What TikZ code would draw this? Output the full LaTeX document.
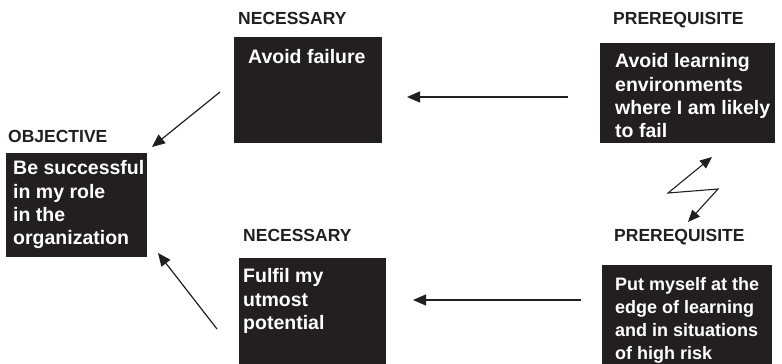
\documentclass[tikz,border=0pt]{standalone}
\usepackage{fontspec}
\setmainfont{Liberation Sans}
\usetikzlibrary{arrows.meta}
\definecolor{boxfill}{HTML}{231F20}
\begin{document}
\begin{tikzpicture}[x=1pt,y=-1pt,
  boxrect/.style={fill=boxfill,draw=none,anchor=north west,inner sep=0pt},
  boxtext/.style={text=white,anchor=north west,inner sep=0pt,align=left,
    font=\fontsize{19.5}{23.3}\selectfont\bfseries},
  lbl/.style={anchor=base west,inner sep=0pt,text=boxfill,
    font=\fontsize{17.5}{20}\selectfont\bfseries},
  conn/.style={draw=boxfill,line width=1.2pt,-{Triangle[length=13pt,width=11pt]}},
  zz/.style={draw=boxfill,line width=1.1pt,{Triangle[length=12pt,width=10pt]}-{Triangle[length=12pt,width=10pt]}}]
\useasboundingbox (0,0) rectangle (782,364);
\fill[white] (0,0) rectangle (782,364);

% boxes
\node[boxrect,minimum width=141pt,minimum height=104pt] (obj) at (6,153) {};
\node[boxrect,minimum width=148pt,minimum height=106pt] (avf) at (234,37) {};
\node[boxrect,minimum width=147pt,minimum height=106pt] (ful) at (239,258) {};
\node[boxrect,minimum width=175pt,minimum height=100pt] (avl) at (600,43) {};
\node[boxrect,minimum width=170pt,minimum height=99pt] (put) at (602,265) {};

% box texts
\node[boxtext] (objt) at ([xshift=7pt,yshift=-7.5pt]obj.north west) {Be successful\\in my role\\in the\\organization};
\node[boxtext] (avft) at ([xshift=14pt,yshift=-12pt]avf.north west) {Avoid failure};
\node[boxtext] (fult) at ([xshift=4pt,yshift=-10.5pt]ful.north west) {Fulfil my\\utmost\\potential};
\node[boxtext] (avlt) at ([xshift=15pt,yshift=-10.5pt]avl.north west) {Avoid learning\\environments\\where I am likely\\to fail};
\node[boxtext,font=\fontsize{18}{23}\selectfont\bfseries] (putt) at ([xshift=13pt,yshift=-12pt]put.north west) {Put myself at the\\edge of learning\\and in situations\\of high risk};

% labels
\node[lbl] (l1) at (8,142) {OBJECTIVE};
\node[lbl] (l2) at (238,24) {NECESSARY};
\node[lbl] (l3) at (243,241) {NECESSARY};
\node[lbl] (l4) at (613,24) {PREREQUISITE};
\node[lbl] (l5) at (614,241) {PREREQUISITE};

% connector ends
\coordinate (a1s) at (220,92);
\coordinate (a1e) at (152,147);
\coordinate (a2s) at (217,329);
\coordinate (a2e) at (158,253);
\coordinate (a3s) at (568,97);
\coordinate (a3e) at (407,97);
\coordinate (a4s) at (581,300);
\coordinate (a4e) at (413,300);
\coordinate (z1) at (712,157);
\coordinate (z2) at (668,193);
\coordinate (z3) at (718,189);
\coordinate (z4) at (688,222);

\draw[conn] (a1s) -- (a1e);
\draw[conn] (a2s) -- (a2e);
\draw[conn] (a3s) -- (a3e);
\draw[conn] (a4s) -- (a4e);
\draw[zz] (z1) -- (z2) -- (z3) -- (z4);
\end{tikzpicture}
\end{document}
